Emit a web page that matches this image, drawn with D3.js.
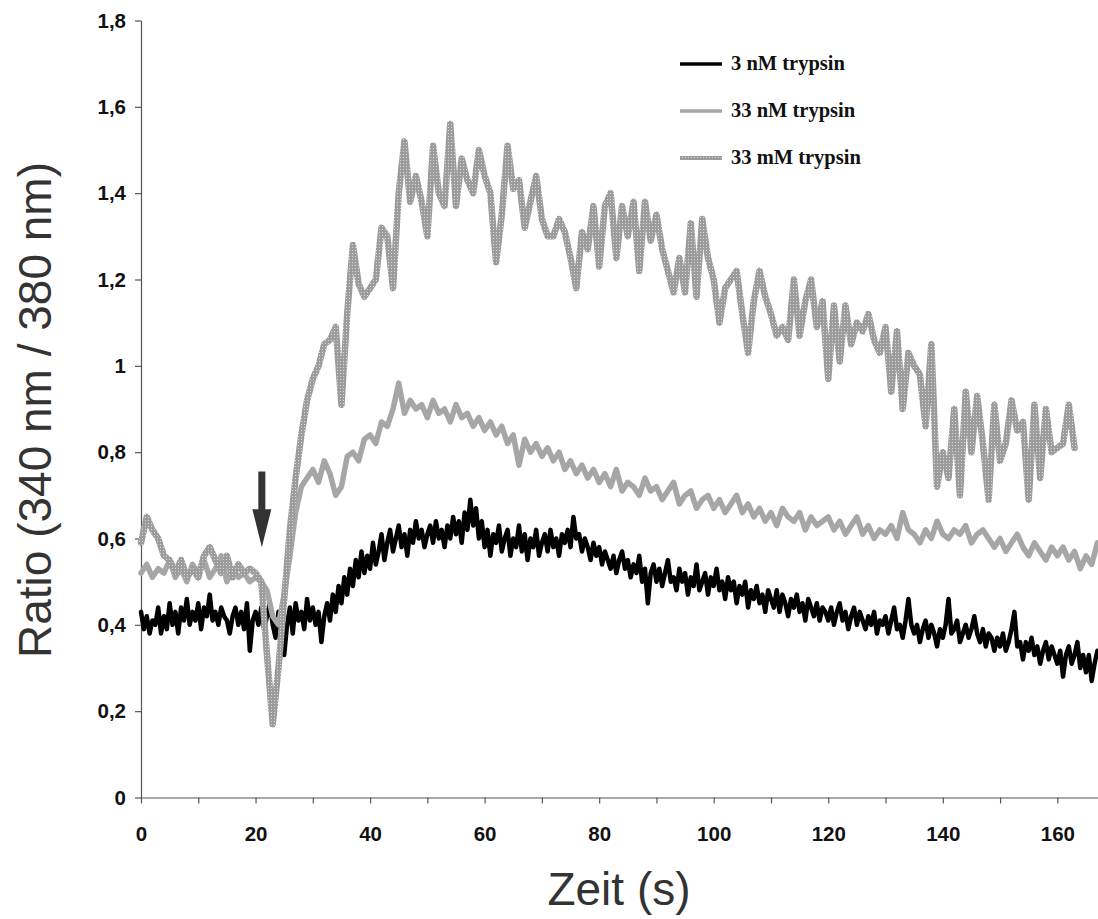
<!DOCTYPE html>
<html>
<head>
<meta charset="utf-8">
<script src="https://cdn.jsdelivr.net/npm/d3@7"></script>
<style>
  html, body { margin: 0; padding: 0; background: #fff; }
  svg { display: block; }
</style>
</head>
<body>
<svg id="chart" width="1098" height="919"></svg>
<script>
// Fura-2 ratio traces (340 nm / 380 nm) over time, one value per sampling step

// 3 nM trypsin, sampled every 0.5 s from 0 s
const step3nM = 0.5;
const ratio3nM = [
  0.43,0.39,0.42,0.38,0.41,0.40,0.44,0.38,0.42,0.39,
  0.45,0.40,0.43,0.38,0.44,0.41,0.46,0.40,0.43,0.41,
  0.45,0.39,0.44,0.42,0.47,0.41,0.43,0.40,0.44,0.42,
  0.41,0.38,0.42,0.44,0.40,0.43,0.39,0.45,0.34,0.41,
  0.43,0.40,0.44,0.39,0.42,0.45,0.40,0.37,0.43,0.41,
  0.33,0.40,0.44,0.38,0.45,0.41,0.43,0.39,0.46,0.41,
  0.44,0.40,0.43,0.36,0.42,0.45,0.41,0.47,0.43,0.49,
  0.45,0.51,0.47,0.53,0.49,0.55,0.51,0.57,0.52,0.56,
  0.53,0.59,0.54,0.57,0.61,0.55,0.59,0.62,0.57,0.60,
  0.63,0.58,0.61,0.56,0.62,0.59,0.64,0.60,0.62,0.58,
  0.61,0.63,0.59,0.64,0.60,0.62,0.58,0.63,0.60,0.65,
  0.61,0.64,0.59,0.66,0.62,0.69,0.63,0.67,0.60,0.64,
  0.58,0.62,0.56,0.61,0.59,0.63,0.57,0.60,0.62,0.56,
  0.60,0.58,0.63,0.57,0.61,0.55,0.60,0.58,0.62,0.56,
  0.59,0.61,0.57,0.62,0.58,0.60,0.56,0.61,0.59,0.62,
  0.58,0.65,0.60,0.61,0.57,0.60,0.58,0.55,0.59,0.56,
  0.58,0.54,0.57,0.55,0.53,0.56,0.52,0.55,0.57,0.53,
  0.55,0.51,0.54,0.52,0.56,0.50,0.53,0.45,0.52,0.54,
  0.50,0.53,0.49,0.52,0.55,0.50,0.51,0.48,0.53,0.50,
  0.52,0.47,0.51,0.49,0.54,0.48,0.50,0.52,0.47,0.51,
  0.49,0.53,0.48,0.50,0.46,0.51,0.48,0.50,0.45,0.49,
  0.47,0.50,0.44,0.48,0.46,0.49,0.45,0.47,0.43,0.48,
  0.46,0.44,0.48,0.43,0.47,0.45,0.42,0.46,0.44,0.47,
  0.43,0.45,0.41,0.46,0.44,0.42,0.45,0.41,0.44,0.43,
  0.41,0.44,0.40,0.43,0.45,0.41,0.43,0.39,0.42,0.44,
  0.40,0.43,0.41,0.39,0.42,0.40,0.43,0.38,0.41,0.40,
  0.42,0.38,0.41,0.44,0.39,0.40,0.37,0.41,0.46,0.40,
  0.38,0.40,0.36,0.39,0.41,0.37,0.40,0.38,0.35,0.39,
  0.37,0.40,0.46,0.38,0.39,0.41,0.36,0.38,0.40,0.37,
  0.39,0.42,0.38,0.36,0.39,0.35,0.38,0.37,0.34,0.37,
  0.35,0.38,0.34,0.36,0.39,0.43,0.35,0.36,0.32,0.36,
  0.34,0.37,0.33,0.35,0.31,0.34,0.36,0.32,0.35,0.33,
  0.31,0.34,0.28,0.33,0.35,0.31,0.33,0.36,0.30,0.33,
  0.29,0.33,0.27,0.31,0.34
];

// 33 nM trypsin, sampled every 1 s from 0 s
const step33nM = 1;
const ratio33nM = [
  0.52,0.54,0.51,0.53,0.52,0.55,0.51,0.53,0.50,0.54,
  0.52,0.55,0.51,0.53,0.56,0.50,0.53,0.51,0.52,0.50,
  0.51,0.50,0.48,0.42,0.40,0.47,0.56,0.66,0.72,0.74,
  0.76,0.73,0.78,0.75,0.70,0.72,0.79,0.80,0.78,0.83,
  0.84,0.82,0.87,0.86,0.90,0.96,0.89,0.92,0.90,0.91,
  0.88,0.92,0.89,0.90,0.87,0.91,0.88,0.89,0.86,0.88,
  0.85,0.87,0.84,0.86,0.82,0.84,0.77,0.83,0.80,0.82,
  0.79,0.81,0.78,0.80,0.76,0.78,0.75,0.77,0.74,0.76,
  0.73,0.75,0.72,0.76,0.71,0.73,0.72,0.70,0.74,0.71,
  0.72,0.69,0.71,0.73,0.68,0.70,0.71,0.67,0.69,0.70,
  0.67,0.69,0.66,0.68,0.70,0.66,0.68,0.65,0.67,0.64,
  0.66,0.63,0.67,0.65,0.64,0.66,0.62,0.65,0.63,0.64,
  0.65,0.62,0.64,0.61,0.63,0.65,0.61,0.63,0.60,0.62,
  0.61,0.63,0.60,0.66,0.62,0.61,0.59,0.62,0.60,0.64,
  0.61,0.60,0.62,0.61,0.63,0.59,0.61,0.62,0.60,0.58,
  0.60,0.57,0.59,0.61,0.58,0.56,0.59,0.57,0.55,0.58,
  0.56,0.58,0.55,0.57,0.53,0.56,0.54,0.59
];

// 33 mM trypsin, sampled every 1 s from 0 s
const step33mM = 1;
const ratio33mM = [
  0.59,0.65,0.62,0.60,0.56,0.55,0.52,0.55,0.51,0.53,
  0.51,0.56,0.58,0.55,0.52,0.56,0.51,0.54,0.52,0.53,
  0.52,0.50,0.33,0.17,0.30,0.46,0.62,0.74,0.84,0.92,
  0.97,1.00,1.05,1.06,1.09,0.91,1.12,1.28,1.19,1.16,
  1.18,1.20,1.32,1.30,1.18,1.40,1.52,1.38,1.44,1.38,
  1.30,1.51,1.40,1.37,1.56,1.37,1.48,1.43,1.40,1.50,
  1.44,1.40,1.24,1.35,1.51,1.41,1.43,1.32,1.38,1.44,
  1.34,1.30,1.30,1.34,1.31,1.25,1.18,1.31,1.27,1.37,
  1.23,1.37,1.40,1.25,1.37,1.30,1.38,1.22,1.38,1.29,
  1.35,1.27,1.22,1.17,1.25,1.17,1.33,1.16,1.34,1.25,
  1.20,1.10,1.18,1.20,1.22,1.12,1.03,1.15,1.22,1.16,
  1.12,1.07,1.09,1.06,1.20,1.07,1.15,1.20,1.09,1.15,
  0.97,1.14,1.01,1.14,1.05,1.10,1.08,1.12,1.06,1.03,
  1.09,0.94,1.08,0.90,1.03,1.00,0.98,0.86,1.05,0.72,
  0.80,0.74,0.90,0.70,0.94,0.80,0.93,0.82,0.69,0.91,
  0.78,0.82,0.92,0.85,0.87,0.69,0.91,0.74,0.90,0.80,
  0.81,0.82,0.91,0.81
];

const seriesNames = ["3 nM trypsin", "33 nM trypsin", "33 mM trypsin"];

// Axis ticks
const xTickValues = [0,10,20,30,40,50,60,70,80,90,100,110,120,130,140,150,160];
const xTickLabels = ["0","","20","","40","","60","","80","","100","","120","","140","","160"];
const yTickValues = [0,0.2,0.4,0.6,0.8,1,1.2,1.4,1.6,1.8];
const yTickLabels = ["0","0,2","0,4","0,6","0,8","1","1,2","1,4","1,6","1,8"];

const xTitle = "Zeit (s)";
const yTitle = "Ratio (340 nm / 380 nm)";

// Trypsin addition marker: time (s) and ratio span of the arrow
const arrowTime = 21.1;
const arrowTop = 0.755;
const arrowTip = 0.58;

// ---------------------------------------------------------------
const svg = d3.select("#chart");

const x = d3.scaleLinear().domain([0, 167.1]).range([141, 1098]);
const y = d3.scaleLinear().domain([0, 1.8]).range([797.5, 20.5]);

// dotted halftone texture for the 33 mM trace
const defs = svg.append("defs");
const pat = defs.append("pattern")
  .attr("id", "halftone")
  .attr("patternUnits", "userSpaceOnUse")
  .attr("width", 3).attr("height", 3);
pat.append("rect").attr("width", 3).attr("height", 3).attr("fill", "#9c9c9c");
pat.append("rect").attr("x", 1).attr("y", 1).attr("width", 1).attr("height", 1).attr("fill", "#d9d9d9");

const axisColor = "#555";

// y axis
const yAxis = d3.axisLeft(y)
  .tickValues(yTickValues)
  .tickFormat((d, i) => yTickLabels[i])
  .tickSize(6)
  .tickSizeOuter(0)
  .tickPadding(9);

const gy = svg.append("g")
  .attr("transform", `translate(${x(0)},0)`)
  .call(yAxis);

// x axis
const xAxis = d3.axisBottom(x)
  .tickValues(xTickValues)
  .tickFormat((d, i) => xTickLabels[i])
  .tickSize(6)
  .tickSizeOuter(0)
  .tickPadding(23);

const gx = svg.append("g")
  .attr("transform", `translate(0,${y(0)})`)
  .call(xAxis);

[gx, gy].forEach(g => {
  g.select(".domain").attr("stroke", axisColor).attr("stroke-width", 1.2);
  g.selectAll(".tick line").attr("stroke", axisColor).attr("stroke-width", 1.2);
  g.selectAll(".tick text")
    .attr("fill", "#111")
    .style("font-family", "'Liberation Sans', Arial, sans-serif")
    .style("font-weight", "bold")
    .style("font-size", "20.5px");
});

// traces
function tracePath(values, step) {
  return d3.line()
    .x((d, i) => x(i * step))
    .y(d => y(d))
    .curve(d3.curveLinear)(values);
}

const plot = svg.append("g")
  .attr("fill", "none")
  .attr("stroke-linejoin", "round")
  .attr("stroke-linecap", "round");

plot.append("path")
  .attr("d", tracePath(ratio3nM, step3nM))
  .attr("stroke", "#000")
  .attr("stroke-width", 4.5);

plot.append("path")
  .attr("d", tracePath(ratio33nM, step33nM))
  .attr("stroke", "#a6a6a6")
  .attr("stroke-width", 5.5);

plot.append("path")
  .attr("d", tracePath(ratio33mM, step33mM))
  .attr("stroke", "url(#halftone)")
  .attr("stroke-width", 6.5);

// arrow marking trypsin addition
const ax = x(arrowTime);
const yTop = y(arrowTop), yTipPx = y(arrowTip);
const headLen = 38, shaftHalf = 3.5, headHalf = 9.5;
const yBase = yTipPx - headLen;
svg.append("path")
  .attr("d", `M${ax - shaftHalf},${yTop}L${ax + shaftHalf},${yTop}L${ax + shaftHalf},${yBase}` +
             `L${ax + headHalf},${yBase}L${ax},${yTipPx}L${ax - headHalf},${yBase}` +
             `L${ax - shaftHalf},${yBase}Z`)
  .attr("fill", "#333");

// legend
const legendStyles = [
  { stroke: "#000", width: 3.5 },
  { stroke: "#a6a6a6", width: 3.5 },
  { stroke: "url(#halftone)", width: 4 }
];
const legend = svg.append("g");
seriesNames.forEach((name, i) => {
  const ly = 64 + i * 47;
  legend.append("line")
    .attr("x1", 680).attr("x2", 722)
    .attr("y1", ly).attr("y2", ly)
    .attr("stroke", legendStyles[i].stroke)
    .attr("stroke-width", legendStyles[i].width);
  legend.append("text")
    .attr("x", 731).attr("y", ly + 6)
    .style("font-family", "'Liberation Serif', 'Times New Roman', serif")
    .style("font-weight", "bold")
    .style("font-size", "20.5px")
    .attr("fill", "#111")
    .text(name);
});

// axis titles
svg.append("text")
  .attr("x", 619).attr("y", 905)
  .attr("text-anchor", "middle")
  .style("font-family", "'Liberation Sans', Arial, sans-serif")
  .style("font-size", "46px")
  .attr("fill", "#333")
  .text(xTitle);

svg.append("text")
  .attr("transform", "translate(51,410) rotate(-90)")
  .attr("text-anchor", "middle")
  .style("font-family", "'Liberation Sans', Arial, sans-serif")
  .style("font-size", "46px")
  .attr("fill", "#333")
  .text(yTitle);
</script>
</body>
</html>
